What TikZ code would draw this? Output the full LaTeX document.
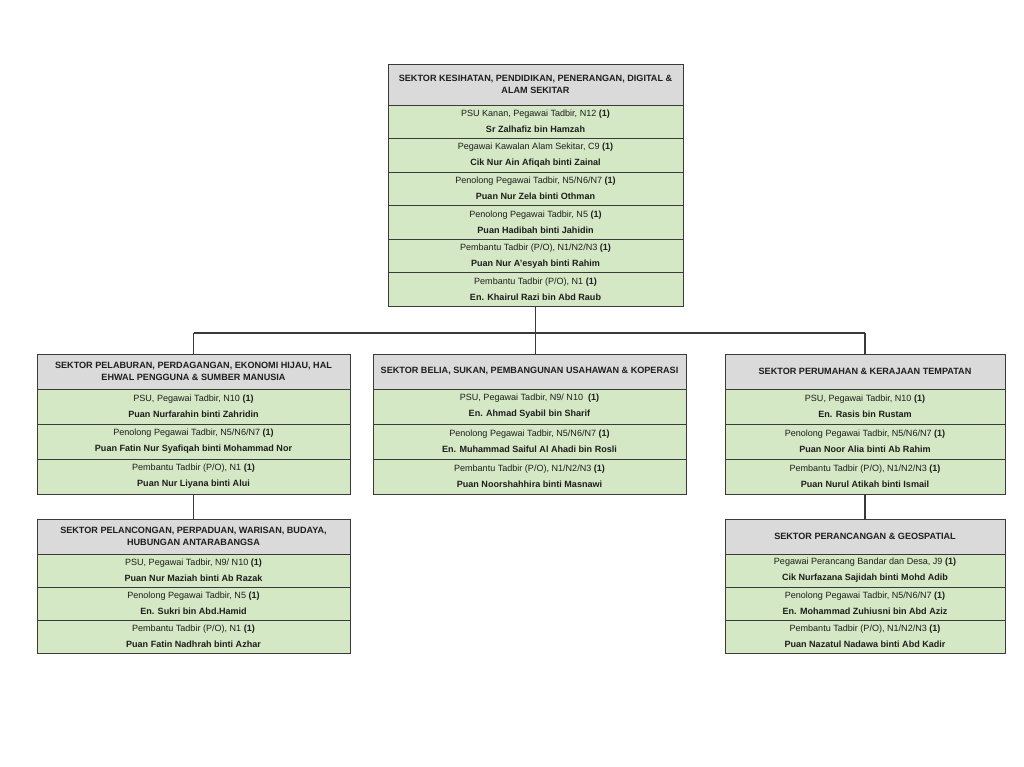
\documentclass[tikz,border=0pt]{standalone}
\usepackage{fontspec}
\setmainfont{Liberation Sans}
\definecolor{hdrgray}{HTML}{DADADA}
\definecolor{rowgreen}{HTML}{D5E8C5}
\definecolor{edge}{HTML}{3A3A3A}
\definecolor{txt}{HTML}{1E1E1E}
\tikzset{
  box/.style={draw=edge, line width=0.9pt, inner sep=0pt, outer sep=0pt, align=center, text=txt},
  hdr/.style={box, fill=hdrgray, font=\bfseries\fontsize{9.1}{12}\selectfont},
  row/.style={box, fill=rowgreen, anchor=north, font=\fontsize{9.05}{16}\selectfont},
  conn/.style={draw=edge, line width=1.1pt},
}
\newcommand{\rw}[2]{#1 \textbf{(1)}\\\textbf{#2}}
\begin{document}
\begin{tikzpicture}[x=1pt,y=-1pt]
\useasboundingbox[fill=white] (0,0) rectangle (1024,766);
% top box
\node[hdr, anchor=north west, minimum width=295, minimum height=41] (T0) at (388,64)
  {SEKTOR KESIHATAN, PENDIDIKAN, PENERANGAN, DIGITAL \&\\ALAM SEKITAR};
\node[row, minimum width=295, minimum height=33.5] (T1) at (T0.south) {\rw{PSU Kanan, Pegawai Tadbir, N12}{Sr Zalhafiz bin Hamzah}};
\node[row, minimum width=295, minimum height=33.5] (T2) at (T1.south) {\rw{Pegawai Kawalan Alam Sekitar, C9}{Cik Nur Ain Afiqah binti Zainal}};
\node[row, minimum width=295, minimum height=33.5] (T3) at (T2.south) {\rw{Penolong Pegawai Tadbir, N5/N6/N7}{Puan Nur Zela binti Othman}};
\node[row, minimum width=295, minimum height=33.5] (T4) at (T3.south) {\rw{Penolong Pegawai Tadbir, N5}{Puan Hadibah binti Jahidin}};
\node[row, minimum width=295, minimum height=33.5] (T5) at (T4.south) {\rw{Pembantu Tadbir (P/O), N1/N2/N3}{Puan Nur A'esyah binti Rahim}};
\node[row, minimum width=295, minimum height=33.5] (T6) at (T5.south) {\rw{Pembantu Tadbir (P/O), N1}{En. Khairul Razi bin Abd Raub}};
% left box
\node[hdr, anchor=north west, minimum width=313, minimum height=35] (L0) at (37,354)
  {SEKTOR PELABURAN, PERDAGANGAN, EKONOMI HIJAU, HAL\\EHWAL PENGGUNA \& SUMBER MANUSIA};
\node[row, minimum width=313, minimum height=35] (L1) at (L0.south) {\rw{PSU, Pegawai Tadbir, N10}{Puan Nurfarahin binti Zahridin}};
\node[row, minimum width=313, minimum height=35] (L2) at (L1.south) {\rw{Penolong Pegawai Tadbir, N5/N6/N7}{Puan Fatin Nur Syafiqah binti Mohammad Nor}};
\node[row, minimum width=313, minimum height=35] (L3) at (L2.south) {\rw{Pembantu Tadbir (P/O), N1}{Puan Nur Liyana binti Alui}};
% middle box
\node[hdr, anchor=north west, minimum width=313, minimum height=35] (M0) at (373,354)
  {SEKTOR BELIA, SUKAN, PEMBANGUNAN USAHAWAN \& KOPERASI};
\node[row, minimum width=313, minimum height=35] (M1) at (M0.south) {\rw{PSU, Pegawai Tadbir, N9/ N10\ }{En. Ahmad Syabil bin Sharif}};
\node[row, minimum width=313, minimum height=35] (M2) at (M1.south) {\rw{Penolong Pegawai Tadbir, N5/N6/N7}{En. Muhammad Saiful Al Ahadi bin Rosli}};
\node[row, minimum width=313, minimum height=35] (M3) at (M2.south) {\rw{Pembantu Tadbir (P/O), N1/N2/N3}{Puan Noorshahhira binti Masnawi}};
% right box
\node[hdr, anchor=north west, minimum width=280, minimum height=35] (R0) at (725,354)
  {SEKTOR PERUMAHAN \& KERAJAAN TEMPATAN};
\node[row, minimum width=280, minimum height=35] (R1) at (R0.south) {\rw{PSU, Pegawai Tadbir, N10}{En. Rasis bin Rustam}};
\node[row, minimum width=280, minimum height=35] (R2) at (R1.south) {\rw{Penolong Pegawai Tadbir, N5/N6/N7}{Puan Noor Alia binti Ab Rahim}};
\node[row, minimum width=280, minimum height=35] (R3) at (R2.south) {\rw{Pembantu Tadbir (P/O), N1/N2/N3}{Puan Nurul Atikah binti Ismail}};
% bottom left box
\node[hdr, anchor=north west, minimum width=313, minimum height=35] (B0) at (37,519)
  {SEKTOR PELANCONGAN, PERPADUAN, WARISAN, BUDAYA,\\HUBUNGAN ANTARABANGSA};
\node[row, minimum width=313, minimum height=33] (B1) at (B0.south) {\rw{PSU, Pegawai Tadbir, N9/ N10}{Puan Nur Maziah binti Ab Razak}};
\node[row, minimum width=313, minimum height=33] (B2) at (B1.south) {\rw{Penolong Pegawai Tadbir, N5}{En. Sukri bin Abd.Hamid}};
\node[row, minimum width=313, minimum height=33] (B3) at (B2.south) {\rw{Pembantu Tadbir (P/O), N1}{Puan Fatin Nadhrah binti Azhar}};
% bottom right box
\node[hdr, anchor=north west, minimum width=280, minimum height=35] (G0) at (725,519)
  {SEKTOR PERANCANGAN \& GEOSPATIAL};
\node[row, minimum width=280, minimum height=33] (G1) at (G0.south) {\rw{Pegawai Perancang Bandar dan Desa, J9}{Cik Nurfazana Sajidah binti Mohd Adib}};
\node[row, minimum width=280, minimum height=33] (G2) at (G1.south) {\rw{Penolong Pegawai Tadbir, N5/N6/N7}{En. Mohammad Zuhiusni bin Abd Aziz}};
\node[row, minimum width=280, minimum height=33] (G3) at (G2.south) {\rw{Pembantu Tadbir (P/O), N1/N2/N3}{Puan Nazatul Nadawa binti Abd Kadir}};
% connectors
\coordinate (hy) at (0,333);
\draw[conn] (T6.south) -- (T6.south |- M0.north);
\draw[conn] (L0.north |- hy) -- (R0.north |- hy);
\draw[conn] (L0.north |- hy) -- (L0.north);
\draw[conn] (R0.north |- hy) -- (R0.north);
\draw[conn] (L3.south) -- (B0.north);
\draw[conn] (R3.south) -- (G0.north);
\end{tikzpicture}
\end{document}
